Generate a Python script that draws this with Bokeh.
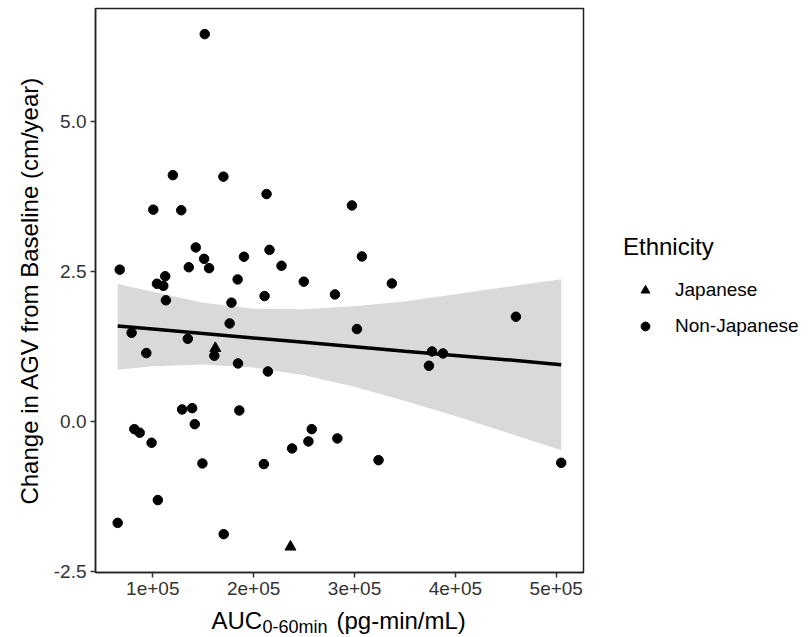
from bokeh.plotting import figure
from bokeh.models import Range1d, FixedTicker, Legend, LegendItem
from bokeh.layouts import column, row
from bokeh.core.properties import value
from bokeh.embed import file_html
from bokeh.resources import INLINE

# ---- data ----
auc_non_japanese = [151500, 119900, 170000, 212800, 100500, 128200, 297400, 142600,
                    150900, 215700, 190400, 135700, 155800, 227600, 67200, 307300,
                    112300, 184100, 249700, 337000, 104100, 110400, 113000, 178000,
                    210800, 280600, 176200, 460000, 302400, 79000, 134700, 161000,
                    93600, 184500, 214100, 376800, 387700, 373800, 129100, 139000,
                    185800, 141600, 81700, 87000, 98800, 257600, 254300, 238100,
                    283000, 149200, 210100, 323800, 504900, 105000, 65200, 170300]
agv_non_japanese = [6.455, 4.105, 4.08, 3.79, 3.53, 3.52, 3.60, 2.90,
                    2.71, 2.86, 2.745, 2.57, 2.555, 2.595, 2.53, 2.75,
                    2.42, 2.367, 2.33, 2.30, 2.295, 2.26, 2.02, 1.98,
                    2.09, 2.117, 1.633, 1.745, 1.54, 1.478, 1.378, 1.095,
                    1.14, 0.967, 0.833, 1.167, 1.133, 0.928, 0.20, 0.222,
                    0.183, -0.045, -0.128, -0.188, -0.355, -0.128, -0.333, -0.45,
                    -0.283, -0.70, -0.71, -0.645, -0.689, -1.31, -1.69, -1.878]
auc_japanese = [162000, 236500]
agv_japanese = [1.22, -2.09]

fit_auc = [65200, 100000, 150000, 200000, 250000, 300000, 350000, 400000, 450000, 504900]
fit_mean = [1.59, 1.54, 1.465, 1.39, 1.32, 1.245, 1.17, 1.10, 1.03, 0.945]
fit_upper = [2.29, 2.16, 1.98, 1.88, 1.87, 1.92, 2.00, 2.12, 2.24, 2.37]
fit_lower = [0.86, 0.92, 0.95, 0.90, 0.77, 0.58, 0.34, 0.09, -0.18, -0.48]

x_ticks = [100000, 200000, 300000, 400000, 500000]
x_tick_labels = ["1e+05", "2e+05", "3e+05", "4e+05", "5e+05"]
y_ticks = [-2.5, 0.0, 2.5, 5.0]
y_tick_labels = ["-2.5", "0.0", "2.5", "5.0"]

y_title = "Change in AGV from Baseline (cm/year)"
x_title_parts = ["AUC", "0-60min", "(pg-min/mL)"]
legend_title = "Ethnicity"
legend_labels = ["Japanese", "Non-Japanese"]

FONT = "Liberation Sans"
X_RANGE = (43200, 527000)
Y_RANGE = (-2.517, 6.882)

# ---------------- main panel ----------------
p = figure(width=588, height=604, output_backend="svg", toolbar_location=None,
           x_range=Range1d(*X_RANGE), y_range=Range1d(*Y_RANGE),
           min_border_left=95, min_border_right=5, min_border_top=8,
           min_border_bottom=32)
p.background_fill_color = "white"
p.border_fill_color = "white"
p.outline_line_color = "#222222"
p.outline_line_width = 1.5
p.xgrid.visible = False
p.ygrid.visible = False

p.varea(x=fit_auc, y1=fit_lower, y2=fit_upper, fill_color="#d9d9d9", fill_alpha=1.0)
p.scatter(auc_non_japanese, agv_non_japanese, marker="circle", size=9.5,
          fill_color="black", line_color="black")
p.scatter(auc_japanese, agv_japanese, marker="triangle", size=11,
          fill_color="black", line_color="black")
p.line(fit_auc, fit_mean, line_color="black", line_width=3.5)

for ax, ticks, labels in ((p.xaxis[0], x_ticks, x_tick_labels),
                          (p.yaxis[0], y_ticks, y_tick_labels)):
    ax.ticker = FixedTicker(ticks=ticks)
    ax.major_label_overrides = {t: l for t, l in zip(ticks, labels)}
    ax.minor_tick_line_color = None
    ax.major_tick_in = 0
    ax.major_tick_out = 5
    ax.major_tick_line_color = "#333333"
    ax.major_tick_line_width = 1.5
    ax.axis_line_color = "#222222"
    ax.axis_line_width = 1.5
    ax.major_label_text_font = FONT
    ax.major_label_text_font_size = "19px"
    ax.major_label_text_color = "#333333"
    ax.major_label_standoff = 4

p.yaxis[0].axis_label = y_title
p.yaxis[0].axis_label_text_font = FONT
p.yaxis[0].axis_label_text_font_size = "24px"
p.yaxis[0].axis_label_text_font_style = "normal"
p.yaxis[0].axis_label_text_color = "black"
p.yaxis[0].axis_label_standoff = 8

# ---------------- x-axis title strip (with subscript) ----------------
# texts hang from the strip's top edge (y = range end) with pixel offsets
t = figure(width=588, height=33, output_backend="svg", toolbar_location=None,
           x_range=Range1d(95, 583), y_range=Range1d(0, 33),
           x_axis_location=None, y_axis_location=None,
           min_border_left=95, min_border_right=5, min_border_top=0,
           min_border_bottom=0)
t.grid.visible = False
t.outline_line_color = None
t.background_fill_color = "white"
t.border_fill_color = "white"
t.text(x=[211], y=[33], text=[x_title_parts[0]], text_font=value(FONT),
       text_font_size="24px", text_color="black", text_baseline="top",
       y_offset=2)
t.text(x=[262], y=[33], text=[x_title_parts[1]], text_font=value(FONT),
       text_font_size="18px", text_color="black", text_baseline="top",
       y_offset=12)
t.text(x=[336], y=[33], text=[x_title_parts[2]], text_font=value(FONT),
       text_font_size="24px", text_color="black", text_baseline="top",
       y_offset=2)

# ---------------- legend column ----------------
r = figure(width=220, height=637, output_backend="svg", toolbar_location=None,
           x_range=Range1d(0, 1), y_range=Range1d(0, 1),
           x_axis_location=None, y_axis_location=None, min_border=0)
r.grid.visible = False
r.outline_line_color = None
r.background_fill_color = "white"
r.border_fill_color = "white"
# same series, outside this strip's view: only their legend swatches show
lg_jap = r.scatter(auc_japanese, agv_japanese, marker="triangle", size=11,
                   fill_color="black", line_color="black")
lg_non = r.scatter(auc_non_japanese, agv_non_japanese, marker="circle", size=9.5,
                   fill_color="black", line_color="black")
legend = Legend(items=[LegendItem(label=legend_labels[0], renderers=[lg_jap]),
                       LegendItem(label=legend_labels[1], renderers=[lg_non])],
                location=(35, 300), title=legend_title)
legend.title_text_font = FONT
legend.title_text_font_size = "24px"
legend.title_text_font_style = "normal"
legend.title_text_color = "black"
legend.title_standoff = 18
legend.label_text_font = FONT
legend.label_text_font_size = "19px"
legend.label_text_color = "black"
legend.glyph_width = 44
legend.glyph_height = 22
legend.label_standoff = 8
legend.spacing = 14
legend.padding = 0
legend.margin = 0
legend.border_line_color = None
legend.background_fill_alpha = 0
r.add_layout(legend)

layout = row(column(p, t, spacing=0), r, spacing=0)
open("out.html", "w").write(file_html(layout, INLINE))
